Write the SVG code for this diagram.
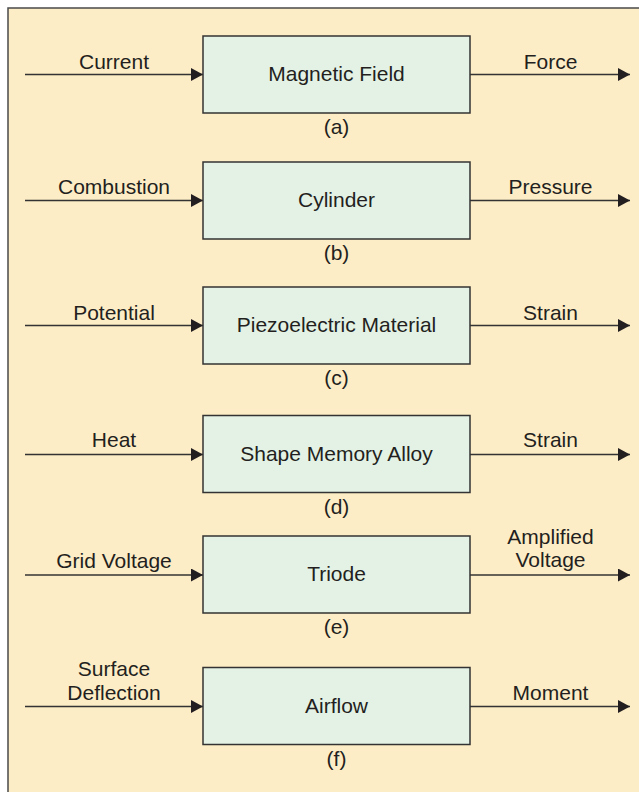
<svg xmlns="http://www.w3.org/2000/svg" width="639" height="792" viewBox="0 0 639 792">
<style>
.t{font-family:"Liberation Sans",Arial,Helvetica,sans-serif;font-size:21px;fill:#231f20;text-anchor:middle}
.box{fill:#e4f2e6;stroke:#333;stroke-width:1.5}
.ln{stroke:#333;stroke-width:1.5;fill:none;marker-end:url(#ah)}
</style>
<defs>
<marker id="ah" markerUnits="userSpaceOnUse" markerWidth="13" markerHeight="14" refX="12" refY="6.5" orient="auto">
<path d="M0,0 L12,6.5 L0,13 z" fill="#231f20"/>
</marker>
</defs>
<rect x="8" y="8" width="640" height="800" fill="#fdedc6" stroke="#4a4a4a" stroke-width="1.5"/>
<g id="connectors">
<line class="ln" x1="25" y1="74.5" x2="203" y2="74.5"/>
<line class="ln" x1="470" y1="74.5" x2="630" y2="74.5"/>
<line class="ln" x1="25" y1="200.5" x2="203" y2="200.5"/>
<line class="ln" x1="470" y1="200.5" x2="630" y2="200.5"/>
<line class="ln" x1="25" y1="325.5" x2="203" y2="325.5"/>
<line class="ln" x1="470" y1="325.5" x2="630" y2="325.5"/>
<line class="ln" x1="25" y1="454.5" x2="203" y2="454.5"/>
<line class="ln" x1="470" y1="454.5" x2="630" y2="454.5"/>
<line class="ln" x1="25" y1="575" x2="203" y2="575"/>
<line class="ln" x1="470" y1="575" x2="630" y2="575"/>
<line class="ln" x1="25" y1="706.5" x2="203" y2="706.5"/>
<line class="ln" x1="470" y1="706.5" x2="630" y2="706.5"/>
<text class="t" x="114" y="68.5">Current</text>
<text class="t" x="550.5" y="68.5">Force</text>
<text class="t" x="114" y="194">Combustion</text>
<text class="t" x="550.5" y="194">Pressure</text>
<text class="t" x="114" y="319.5">Potential</text>
<text class="t" x="550.5" y="319.5">Strain</text>
<text class="t" x="114" y="447">Heat</text>
<text class="t" x="550.5" y="447">Strain</text>
<text class="t" x="114" y="568">Grid Voltage</text>
<text class="t" x="550.5" y="544">Amplified</text>
<text class="t" x="550.5" y="567">Voltage</text>
<text class="t" x="114" y="676">Surface</text>
<text class="t" x="114" y="700">Deflection</text>
<text class="t" x="550.5" y="700">Moment</text>
</g>
<g id="node-a">
<rect class="box" x="203" y="36" width="267" height="77"/>
<text class="t" x="336.5" y="80.5">Magnetic Field</text>
<text class="t" x="336.5" y="133.5">(a)</text>
</g>
<g id="node-b">
<rect class="box" x="203" y="162" width="267" height="77"/>
<text class="t" x="336.5" y="206.5">Cylinder</text>
<text class="t" x="336.5" y="259.5">(b)</text>
</g>
<g id="node-c">
<rect class="box" x="203" y="287" width="267" height="77"/>
<text class="t" x="336.5" y="331.5">Piezoelectric Material</text>
<text class="t" x="336.5" y="385">(c)</text>
</g>
<g id="node-d">
<rect class="box" x="203" y="415.5" width="267" height="77"/>
<text class="t" x="336.5" y="460.5">Shape Memory Alloy</text>
<text class="t" x="336.5" y="513.5">(d)</text>
</g>
<g id="node-e">
<rect class="box" x="203" y="536" width="267" height="77"/>
<text class="t" x="336.5" y="581">Triode</text>
<text class="t" x="336.5" y="634">(e)</text>
</g>
<g id="node-f">
<rect class="box" x="203" y="667.5" width="267" height="77"/>
<text class="t" x="336.5" y="712.5">Airflow</text>
<text class="t" x="336.5" y="765.5">(f)</text>
</g>
</svg>
